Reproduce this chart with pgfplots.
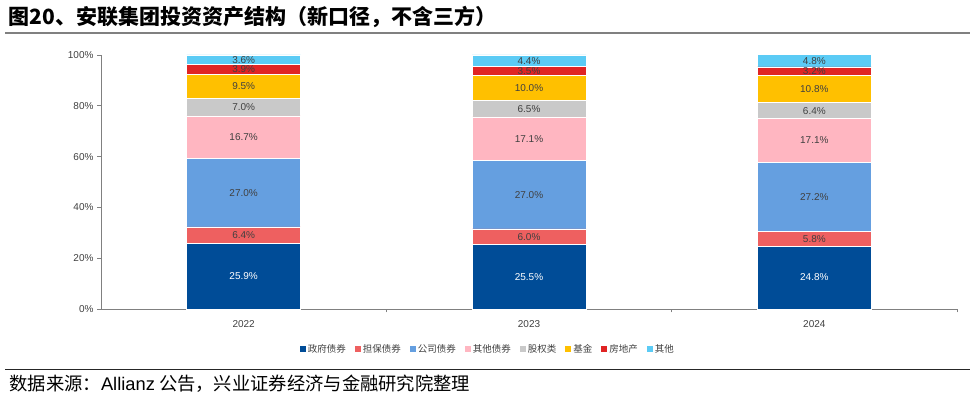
\documentclass[border=0pt]{standalone}
\usepackage{fontspec}
\setmainfont{Liberation Sans}
\newfontfamily\cjk{Noto Sans CJK SC}
\usepackage{pgfplots}
\usepackage{pgfplotstable}
\pgfplotsset{compat=1.18}
\definecolor{c1}{HTML}{004C97}
\definecolor{c2}{HTML}{EE6060}
\definecolor{c3}{HTML}{659FE0}
\definecolor{c4}{HTML}{FFB6C1}
\definecolor{c5}{HTML}{C9C9C9}
\definecolor{c6}{HTML}{FFC000}
\definecolor{c7}{HTML}{E02424}
\definecolor{c8}{HTML}{5BCBF5}
\definecolor{txtgray}{HTML}{404040}
\definecolor{axgray}{HTML}{808080}
\pgfplotstableread{
x a b c d e f g h
0 25.9 6.4 27.0 16.7 7.0 9.5 3.9 3.6
1 25.5 6.0 27.0 17.1 6.5 10.0 3.5 4.4
2 24.8 5.8 27.2 17.1 6.4 10.8 3.2 4.8
}\datatable
\pgfplotsset{
  seg/.style={
    fill=#1, draw=white, line width=0.6bp,
  },
  lab/.style={
    point meta=explicit,
    nodes near coords={\pgfmathprintnumber[fixed,fixed zerofill,precision=1]{\pgfplotspointmeta}\%},
    every node near coord/.style={anchor=center, font=\fontsize{10bp}{12bp}\selectfont, text=txtgray, inner sep=0pt},
  },
}
\begin{document}
\begin{tikzpicture}
\useasboundingbox (0,0) rectangle (975bp,397bp);
\begin{axis}[
  at={(101bp,88bp)}, anchor=south west,
  scale only axis, width=856bp, height=254bp,
  ybar stacked, bar width=114bp,
  xmin=-0.5, xmax=2.5, ymin=0, ymax=100,
  clip=false,
  /pgf/number format/assume math mode=true,
  axis x line*=bottom, axis y line*=left,
  axis line style={draw=axgray, line width=0.8bp},
  xtick={0,1,2}, xticklabels={2022,2023,2024},
  xtick style={draw=none},
  minor xtick={0.5,1.5,2.5},
  minor x tick style={draw=axgray, line width=0.8bp},
  minor tick length=3.5bp,
  ytick={0,20,40,60,80,100},
  yticklabel={\pgfmathprintnumber{\tick}\%},
  ytick style={draw=axgray, line width=0.8bp},
  tick align=outside, major tick length=4bp,
  ticklabel style={font=\fontsize{10bp}{12bp}\selectfont, text=txtgray},
  xticklabel style={yshift=-4bp},
  legend style={at={(0.452,-0.157)}, anchor=center, draw=none, fill=none,
    legend columns=-1, font=\cjk\fontsize{9.5bp}{11bp}\selectfont, text=txtgray,
    /tikz/every even column/.append style={column sep=7bp}},
  legend image code/.code={\fill[#1,draw=none] (0bp,-3bp) rectangle (6bp,3bp);},
]
\addplot[seg=c1, lab, every node near coord/.append style={text=white}] table[x=x,y=a,meta=a]{\datatable};
\addplot[seg=c2, lab] table[x=x,y=b,meta=b]{\datatable};
\addplot[seg=c3, lab] table[x=x,y=c,meta=c]{\datatable};
\addplot[seg=c4, lab] table[x=x,y=d,meta=d]{\datatable};
\addplot[seg=c5, lab] table[x=x,y=e,meta=e]{\datatable};
\addplot[seg=c6, lab] table[x=x,y=f,meta=f]{\datatable};
\addplot[seg=c7, lab] table[x=x,y=g,meta=g]{\datatable};
\addplot[seg=c8, lab] table[x=x,y=h,meta=h]{\datatable};
\legend{政府债券,担保债券,公司债券,其他债券,股权类,基金,房地产,其他}
\end{axis}
\node[anchor=west, font=\cjk\bfseries\fontsize{21bp}{25bp}\selectfont] at (5bp,380bp) {图20、安联集团投资资产结构（新口径，不含三方）};
\draw[line width=2bp, axgray] (5bp,364bp) -- (970bp,364bp);
\draw[line width=1bp, black!85] (5bp,27bp) -- (970bp,27bp);
\node[anchor=west, font=\cjk\fontsize{18.3bp}{21bp}\selectfont] at (6bp,13bp) {数据来源：{\rmfamily Allianz} 公告，兴业证券经济与金融研究院整理};
\end{tikzpicture}
\end{document}
